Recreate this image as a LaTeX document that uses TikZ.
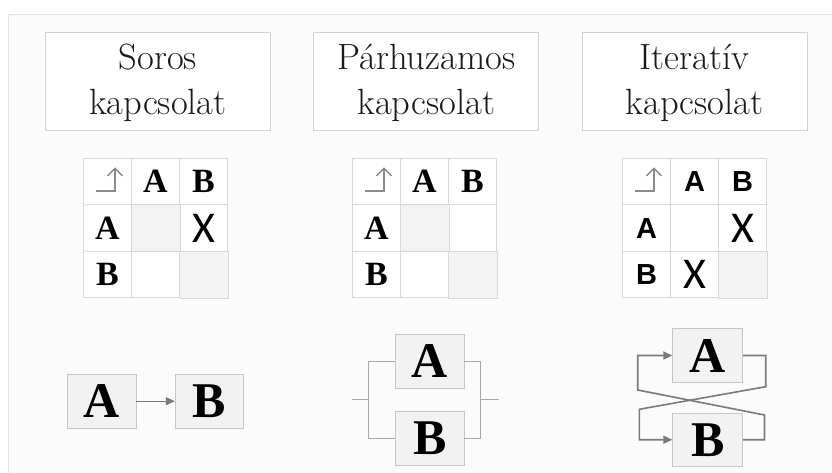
\documentclass[tikz,border=0pt]{standalone}
\usepackage{fontspec}
\newfontfamily\tnr{Liberation Serif}
\newfontfamily\carl{Carlito}
\newfontfamily\arl{Liberation Sans}
\usetikzlibrary{arrows.meta}
\definecolor{frameC}{HTML}{E4E4E4}
\definecolor{bgC}{HTML}{FBFBFB}
\definecolor{tboxC}{HTML}{D2D2D2}
\definecolor{gridC}{HTML}{D8D8D8}
\definecolor{shadeC}{HTML}{F3F3F3}
\definecolor{boxC}{HTML}{F2F2F2}
\definecolor{boxLineC}{HTML}{C6C6C6}
\definecolor{parC}{HTML}{A8A8A8}
\definecolor{arrC}{HTML}{7A7A7A}
\definecolor{symC}{HTML}{8A8A8A}
\definecolor{titleC}{HTML}{1A1A1A}
\tikzset{
  titlebox/.style={draw=tboxC, fill=white, line width=0.8pt, minimum width=225pt, minimum height=98pt, inner sep=0pt},
  titletext/.style={anchor=base, inner sep=0pt, text=titleC, font=\fontsize{36.5}{40}\selectfont},
  cellbox/.style={draw=gridC, fill=white, line width=0.8pt, minimum width=48pt, minimum height=46.5pt, inner sep=0pt},
  graycell/.style={draw=gridC, fill=shadeC, line width=0.8pt},
  serifcell/.style={inner sep=0pt, font=\tnr\bfseries\fontsize{34}{34}\selectfont},
  sanscell/.style={inner sep=0pt, font=\arl\bfseries\fontsize{29}{29}\selectfont},
  xcell/.style={inner sep=0pt, font=\carl\fontsize{44}{44}\selectfont},
  corner/.style={draw=symC, line width=1.4pt},
  blockbox/.style={draw=boxLineC, fill=boxC, line width=0.8pt, minimum width=68.5pt, minimum height=54.5pt, inner sep=0pt, font=\tnr\bfseries\fontsize{50}{50}\selectfont},
  parline/.style={draw=parC, line width=0.9pt},
  serarrow/.style={draw=arrC, line width=1pt, -{Triangle[length=9pt,width=8pt]}},
  itarrow/.style={draw=arrC, line width=1.6pt, line join=miter, -{Triangle[length=9pt,width=8pt]}}
}
\begin{document}
\begin{tikzpicture}[x=1pt,y=-1pt]
\useasboundingbox (0,0) rectangle (832,473);
\fill[white] (0,0) rectangle (832,473);
\begin{scope}
\clip (0,0) rectangle (832,473);
\draw[frameC, fill=bgC, line width=1pt] (8,15) rectangle (860,500);
\end{scope}

% title boxes
\node[titlebox] (tb1) at (157.8,81) {};
\node[titlebox] (tb2) at (426.3,81) {};
\node[titlebox] (tb3) at (694.5,81) {};
\node[titletext] (tb1a) at (157.8,70) {Soros};
\node[titletext] (tb1b) at (157.8,115) {kapcsolat};
\node[titletext] (tb2a) at (426.3,70) {Párhuzamos};
\node[titletext] (tb2b) at (426.3,115) {kapcsolat};
\node[titletext] (tb3a) at (694.5,70) {Iteratív};
\node[titletext] (tb3b) at (694.5,115) {kapcsolat};

% tables grids
\foreach \r in {1,2,3} {
  \foreach \c in {1,2,3} {
    \node[cellbox] (s\r\c) at ({83.5+48*(\c-0.5)},{158.3+46.5*(\r-0.5)}) {};
    \node[cellbox] (p\r\c) at ({352.5+48*(\c-0.5)},{158.3+46.5*(\r-0.5)}) {};
    \node[cellbox] (i\r\c) at ({622.5+48*(\c-0.5)},{158.3+46.5*(\r-0.5)}) {};
  }
}
\draw[graycell] (s22.south west) rectangle (s22.north east);
\draw[graycell] (s33.south west) rectangle (s33.north east);
\draw[graycell] (p22.south west) rectangle (p22.north east);
\draw[graycell] (p33.south west) rectangle (p33.north east);
\draw[graycell] (i33.south west) rectangle (i33.north east);

% corner symbols
\foreach \t in {s,p,i} {
  \draw[corner] ([shift={(-11.5,9.5)}]\t11.center) -- ([shift={(7.5,9.5)}]\t11.center) -- ([shift={(7.5,-13.2)}]\t11.center);
  \draw[corner] ([shift={(0,-5.7)}]\t11.center) -- ([shift={(7.5,-13.2)}]\t11.center) -- ([shift={(15,-5.7)}]\t11.center);
}

% table texts
\node[serifcell] (s12t) at (s12) {A};
\node[serifcell] (s13t) at (s13) {B};
\node[serifcell] (s21t) at (s21) {A};
\node[serifcell] (s31t) at (s31) {B};
\node[xcell] (s23t) at (s23) {X};

\node[serifcell] (p12t) at (p12) {A};
\node[serifcell] (p13t) at (p13) {B};
\node[serifcell] (p21t) at (p21) {A};
\node[serifcell] (p31t) at (p31) {B};

\node[sanscell] (i12t) at (i12) {A};
\node[sanscell] (i13t) at (i13) {B};
\node[sanscell] (i21t) at (i21) {A};
\node[sanscell] (i31t) at (i31) {B};
\node[xcell] (i23t) at (i23) {X};
\node[xcell] (i32t) at (i32) {X};

% series
\node[blockbox] (sa) at (101.8,401.2) {A};
\node[blockbox] (sb) at (209.5,401.2) {B};
\draw[serarrow] (sa) -- (sb);

% parallel
\node[blockbox] (pa) at (429.8,361.2) {A};
\node[blockbox] (pb) at (429.8,438.5) {B};
\coordinate (pin) at (352.3,399.7);
\coordinate (pl) at (368.3,399.7);
\coordinate (pr) at (480.7,399.7);
\coordinate (pout) at (499.3,399.7);
\draw[parline] (pa.west) -| (pl) |- (pb.west);
\draw[parline] (pa.east) -| (pr) |- (pb.east);
\draw[parline] (pin) -- (pl);
\draw[parline] (pr) -- (pout);

% iterative
\node[blockbox, minimum width=70pt] (ia) at (707.7,355.5) {A};
\node[blockbox, minimum width=70pt, minimum height=53pt] (ib) at (707.7,439.7) {B};
\coordinate (ir1) at (765.7,386.7);
\coordinate (il1) at (639.3,409.3);
\coordinate (ir2) at (764.5,415);
\coordinate (il2) at (637.7,390);
\draw[itarrow] (ia.east) -| (ir1) -- (il1) |- (ib.west);
\draw[itarrow] (ib.east) -| (ir2) -- (il2) |- (ia.west);
\end{tikzpicture}
\end{document}
